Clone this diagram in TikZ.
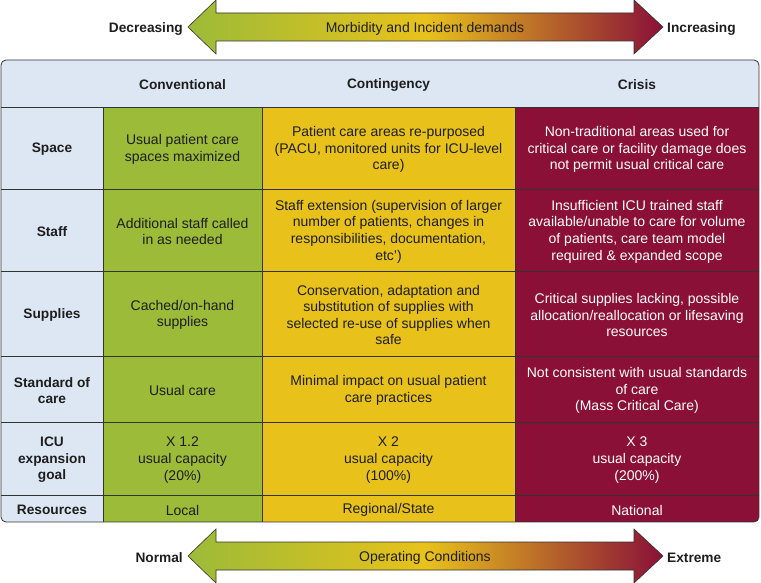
\documentclass[tikz,border=0pt]{standalone}
\usepackage{fontspec}
\setmainfont{Liberation Sans}
\definecolor{lblue}{HTML}{DDE7F3}
\definecolor{cgreen}{HTML}{9CBB38}
\definecolor{cyellow}{HTML}{E8C21B}
\definecolor{ccrim}{HTML}{8A1038}
\definecolor{lines}{HTML}{333333}
\definecolor{txt}{HTML}{1E1E1E}
\tikzset{
  celltext/.style={align=center, font=\fontsize{14}{16.6}\selectfont, text=txt, inner sep=0pt, yshift=-1.5pt},
  whitetext/.style={celltext, text=white},
  labtext/.style={align=center, font=\fontsize{13.7}{16.6}\selectfont\bfseries, text=txt, inner sep=0pt, yshift=-1.5pt},
  sidelabel/.style={font=\fontsize{13.7}{16}\selectfont\bfseries, text=txt, inner sep=0pt, yshift=-1.5pt},
  midlabel/.style={font=\fontsize{14}{16}\selectfont, text=txt, inner sep=0pt, yshift=-1.5pt},
  gridline/.style={draw=lines, line width=0.8pt},
  gradarrow/.style={draw=lines, line width=0.6pt, left color=cgreen, right color=ccrim, middle color=cyellow},
}
\begin{document}
\begin{tikzpicture}[x=1pt, y=-1pt]
\useasboundingbox (0,0) rectangle (761,583);

% ---- top arrow ----
\path[gradarrow] (188,27) -- (216,0) -- (216,13) -- (634,13) -- (634,0) -- (663,27)
  -- (634,54) -- (634,41) -- (216,41) -- (216,54) -- cycle;
\node[midlabel] (topmid) at (425,27) {Morbidity and Incident demands};
\node[sidelabel, anchor=east] (dec) at (183,27) {Decreasing};
\node[sidelabel, anchor=west] (inc) at (667,27) {Increasing};

% ---- bottom arrow ----
\path[gradarrow] (188,556) -- (216,529) -- (216,542) -- (634,542) -- (634,529) -- (663,556)
  -- (634,583) -- (634,570) -- (216,570) -- (216,583) -- cycle;
\node[midlabel] (botmid) at (425,556) {Operating Conditions};
\node[sidelabel, anchor=east] (norm) at (183,556) {Normal};
\node[sidelabel, anchor=west] (ext) at (667,556) {Extreme};

% ---- table backgrounds ----
\begin{scope}
  \clip[rounded corners=5] (1,60) rectangle (759,522);
  \fill[lblue] (1,60) rectangle (759,522);
  \fill[cgreen] (103,107) rectangle (262,522);
  \fill[cyellow] (262,107) rectangle (515,522);
  \fill[ccrim] (515,107) rectangle (759,522);
\end{scope}
\foreach \yy in {107,189,271,356,422,495} \draw[gridline] (1,\yy) -- (759,\yy);
\foreach \xx in {103,262,515} \draw[gridline] (\xx,107) -- (\xx,522);
\draw[gridline, rounded corners=5] (1,60) rectangle (759,522);

% ---- header ----
\node[labtext] (hconv) at (182.5,83.5) {Conventional};
\node[labtext] (hcont) at (388.5,83.5) {Contingency};
\node[labtext] (hcris) at (637,83.5) {Crisis};

% ---- Space ----
\node[labtext] (lspace) at (52,148) {Space};
\node[celltext] (space1) at (182.5,148) {Usual patient care\\spaces maximized};
\node[celltext] (space2) at (388.5,148) {Patient care areas re-purposed\\(PACU, monitored units for ICU-level\\care)};
\node[whitetext] (space3) at (637,148) {Non-traditional areas used for\\critical care or facility damage does\\not permit usual critical care};

% ---- Staff ----
\node[labtext] (lstaff) at (52,230) {Staff};
\node[celltext] (staff1) at (182.5,230) {Additional staff called\\in as needed};
\node[celltext] (staff2) at (388.5,230) {Staff extension (supervision of larger\\number of patients, changes in\\responsibilities, documentation,\\etc')};
\node[whitetext] (staff3) at (637,230) {Insufficient ICU trained staff\\available/unable to care for volume\\of patients, care team model\\required \& expanded scope};

% ---- Supplies ----
\node[labtext] (lsup) at (52,313.5) {Supplies};
\node[celltext] (sup1) at (182.5,313.5) {Cached/on-hand\\supplies};
\node[celltext] (sup2) at (388.5,313.5) {Conservation, adaptation and\\substitution of supplies with\\selected re-use of supplies when\\safe};
\node[whitetext] (sup3) at (637,313.5) {Critical supplies lacking, possible\\allocation/reallocation or lifesaving\\resources};

% ---- Standard of care ----
\node[labtext] (lstd) at (52,389) {Standard of\\care};
\node[celltext] (std1) at (182.5,389) {Usual care};
\node[celltext] (std2) at (388.5,389) {Minimal impact on usual patient\\care practices};
\node[whitetext] (std3) at (637,389) {Not consistent with usual standards\\of care\\(Mass Critical Care)};

% ---- ICU expansion goal ----
\node[labtext] (licu) at (52,458.5) {ICU\\expansion\\goal};
\node[celltext] (icu1) at (182.5,458.5) {X 1.2\\usual capacity\\(20\%)};
\node[celltext] (icu2) at (388.5,458.5) {X 2\\usual capacity\\(100\%)};
\node[whitetext] (icu3) at (637,458.5) {X 3\\usual capacity\\(200\%)};

% ---- Resources ----
\node[labtext] (lres) at (52,508.5) {Resources};
\node[celltext] (res1) at (182.5,508.5) {Local};
\node[celltext] (res2) at (388.5,508.5) {Regional/State};
\node[whitetext] (res3) at (637,508.5) {National};
\end{tikzpicture}
\end{document}
